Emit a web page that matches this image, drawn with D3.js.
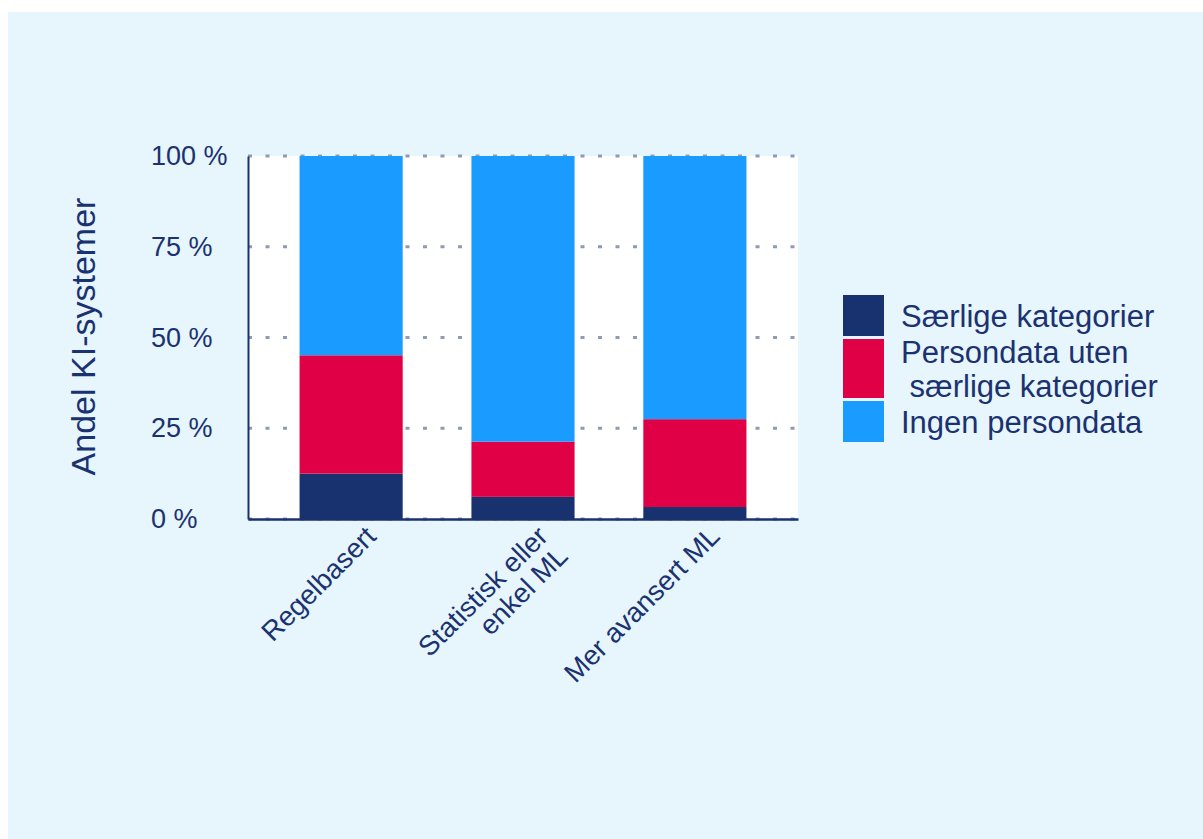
<!DOCTYPE html>
<html>
<head>
<meta charset="utf-8">
<script src="https://cdn.jsdelivr.net/npm/d3@7"></script>
<style>
  body { margin: 0; background: #ffffff; }
  svg { display: block; font-family: "Liberation Sans", Arial, sans-serif; }
</style>
</head>
<body>
<svg id="chart" width="1203" height="839"></svg>
<script>
// ---- data ----
const categories = ["Regelbasert", "Statistisk eller\nenkel ML", "Mer avansert ML"];
const seriesNames = ["Særlige kategorier", "Persondata uten\n særlige kategorier", "Ingen persondata"];
const saerligeKategorier = [12.5, 6.1, 3.3];
const personUtenSaerlige = [32.6, 15.2, 24.2];
const ingenPersondata = [54.9, 78.7, 72.5];
const yTicks = [0, 25, 50, 75, 100];
const yTickLabels = ["0 %", "25 %", "50 %", "75 %", "100 %"];
const yTitle = "Andel KI-systemer";

// ---- styles ----
const colors = ["#18326f", "#e00046", "#1a9bff"];
const textColor = "#1b3270";
const gridColor = "#8f99b8";

const svg = d3.select("#chart");
svg.append("rect").attr("x", 8).attr("y", 12).attr("width", 1203 - 8).attr("height", 839 - 12).attr("fill", "#e7f5fd");

const pLeft = 248, pRight = 798, pTop = 156, pBottom = 519;
const x = d3.scaleBand().domain(categories).range([pLeft, pRight]).paddingInner(0.4).paddingOuter(0.3);
const y = d3.scaleLinear().domain([0, 100]).range([pBottom, pTop]);

svg.append("rect").attr("x", pLeft).attr("y", pTop).attr("width", pRight - pLeft).attr("height", pBottom - pTop).attr("fill", "#ffffff");

// grid
svg.append("g").selectAll("line").data(yTicks).join("line")
  .attr("x1", pLeft).attr("x2", pRight)
  .attr("y1", d => y(d)).attr("y2", d => y(d))
  .attr("stroke", gridColor).attr("stroke-width", 3)
  .attr("stroke-dasharray", "4,13.5");

// stacked bars
const rows = categories.map((c, i) => ({cat: c, s0: saerligeKategorier[i], s1: personUtenSaerlige[i], s2: ingenPersondata[i]}));
const stack = d3.stack().keys(["s0", "s1", "s2"]);
const stacked = stack(rows);
svg.append("g").selectAll("g").data(stacked).join("g")
  .attr("fill", (d, i) => colors[i])
  .selectAll("rect").data(d => d).join("rect")
  .attr("x", d => x(d.data.cat))
  .attr("width", x.bandwidth())
  .attr("y", d => y(d[1]))
  .attr("height", d => y(d[0]) - y(d[1]));

// y axis
const yAxis = svg.append("g").attr("transform", `translate(${pLeft},0)`)
  .call(d3.axisLeft(y).tickValues(yTicks).tickSize(0).tickFormat((d, i) => yTickLabels[i]));
yAxis.select(".domain").attr("stroke", textColor).attr("stroke-width", 2);
yAxis.selectAll("text").attr("x", -97).attr("text-anchor", "start")
  .attr("fill", textColor).attr("font-size", 27).attr("font-family", "Liberation Sans, Arial, sans-serif");

// x axis
const xAxis = svg.append("g").attr("transform", `translate(0,${pBottom})`)
  .call(d3.axisBottom(x).tickSize(0).tickFormat(""));
xAxis.select(".domain").attr("stroke", textColor).attr("stroke-width", 2.5);
xAxis.selectAll(".tick text").remove();
xAxis.selectAll(".tick").each(function(d) {
  const lines = d.split("\n");
  const t = d3.select(this).append("text")
    .attr("transform", `translate(${x.bandwidth() / 2 - 39},5) rotate(-45)`)
    .attr("text-anchor", "end")
    .attr("fill", textColor).attr("font-size", 27.5)
    .attr("font-family", "Liberation Sans, Arial, sans-serif");
  lines.forEach((ln, k) => {
    t.append("tspan").attr("x", 0).attr("y", 0).attr("dy", (0.72 + k * 1.02) + "em").text(ln);
  });
});

// y title
svg.append("text")
  .attr("transform", `translate(95,${(pTop + pBottom) / 2 - 1}) rotate(-90)`)
  .attr("text-anchor", "middle")
  .attr("fill", textColor).attr("font-size", 34)
  .text(yTitle);

// legend
const keyHeights = seriesNames.map(s => s.split("\n").length === 1 ? 41 : 59);
let ky = 295;
seriesNames.forEach((s, i) => {
  const h = keyHeights[i];
  svg.append("rect").attr("x", 843).attr("y", ky).attr("width", 41).attr("height", h).attr("fill", colors[i]);
  const lines = s.split("\n");
  const cy = ky + h / 2;
  const t = svg.append("text").attr("fill", textColor).attr("font-size", 31)
    .style("white-space", "pre");
  lines.forEach((ln, k) => {
    t.append("tspan").attr("x", 901)
      .attr("y", cy - (lines.length - 1) * 17 + k * 34)
      .attr("dy", "0.36em").text(ln);
  });
  ky += h + 3;
});
</script>
</body>
</html>
